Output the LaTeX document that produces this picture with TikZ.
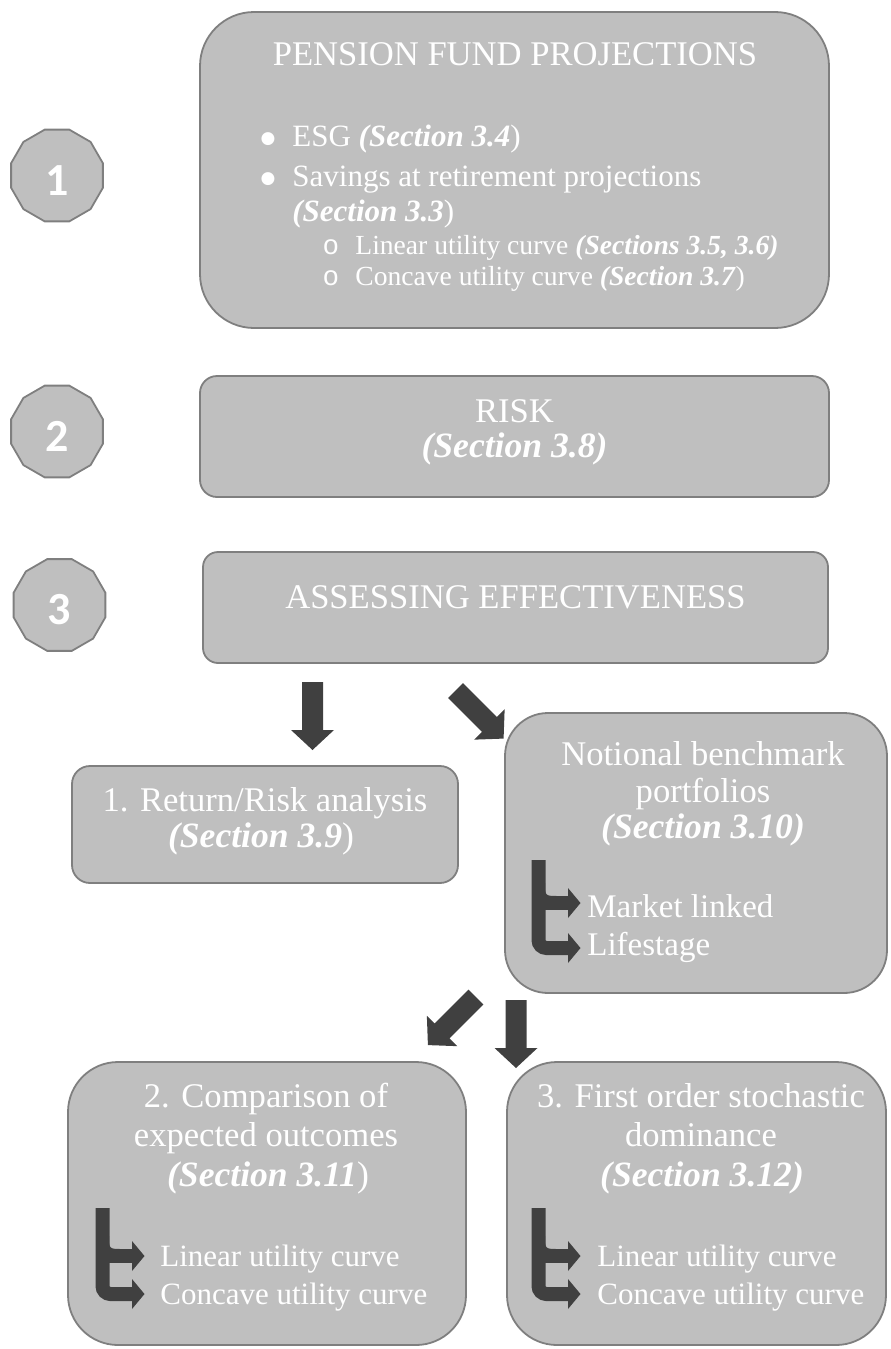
\documentclass[tikz,border=0pt]{standalone}
\usepackage{fontspec}
\setmainfont{Liberation Serif}
\newfontfamily\badgefont{Carlito}
\newfontfamily\subbulletfont{Liberation Mono}
\newfontfamily\dotfont{DejaVu Sans}
\usetikzlibrary{shapes.geometric}

\definecolor{panelgray}{HTML}{BFBFBF}
\definecolor{edgegray}{HTML}{7F7F7F}
\definecolor{arrowdark}{HTML}{404040}

\newcommand{\fsz}[1]{\fontsize{#1}{1.15\dimexpr#1pt\relax}\selectfont}
\newcommand{\secref}[1]{\textbf{\textit{#1}}}

\tikzset{
  panel/.style={draw=edgegray, line width=0.9pt, fill=panelgray, inner sep=0pt},
  badge/.style={regular polygon, regular polygon sides=12, minimum size=47.5pt,
    inner sep=0pt, draw=edgegray, line width=0.9pt, fill=panelgray, text=white,
    font=\badgefont\bfseries\fsz{23}, text height=19.5pt, text depth=0pt},
  head/.style={text=white, anchor=base, inner sep=0pt, font=\fsz{17.3}},
  headsec/.style={head, font=\fsz{17.8}\bfseries\itshape},
  item/.style={text=white, anchor=base west, inner sep=0pt, font=\fsz{15.5}, text depth=1pt},
  bulletmark/.style={text=white, anchor=base, inner sep=0pt, font=\dotfont\fsz{8.5}},
  subitem/.style={text=white, anchor=base west, inner sep=0pt, font=\fsz{13.8}, text depth=1pt},
  branch/.style={text=white, anchor=base west, inner sep=0pt, font=\fsz{#1}},
  blockarrow/.pic={
    \fill[arrowdark] (-10.5,0) -- (-10.5,48) -- (-21.5,48) -- (0,68)
      -- (21.5,48) -- (10.5,48) -- (10.5,0) -- cycle;
  },
  pics/fork/.style n args={2}{code={
    \draw[arrowdark, line width=7pt, rounded corners=4pt] (0,0) -- (0,#2) -- (30,#2);
    \draw[arrowdark, line width=7pt] (0,#1) -- (30,#1);
    \fill[arrowdark] (6.5,#1-20) .. controls (6.5,#1-7) .. (20,#1-7) -- (6.5,#1-7) -- cycle;
    \fill[arrowdark] (29.5,#1-15) -- (42,#1) -- (29.5,#1+15) -- cycle;
    \fill[arrowdark] (29.5,#2-15) -- (42,#2) -- (29.5,#2+15) -- cycle;
  }},
}

\begin{document}
\begin{tikzpicture}[x=0.5pt, y=-0.5pt]
\path[use as bounding box] (0,0) rectangle (890,1349);

% step badges
\node[badge] (badge1) at (57,175.5) {1};
\node[badge] (badge2) at (57,431.5) {2};
\node[badge] (badge3) at (59.5,605) {3};

% top panel: projections
\node[panel, rounded corners=27pt, minimum width=314.5pt, minimum height=158pt] (proj) at (514.5,170) {};
\node[head] (projtitle) at (515,65) {PENSION FUND PROJECTIONS};
\node[bulletmark] (dot1) at (268,143) {●};
\node[item] (esg) at (292,146) {ESG \secref{(Section 3.4}{\upshape)}};
\node[bulletmark] (dot2) at (268,183) {●};
\node[item] (savings) at (292,186) {Savings at retirement projections};
\node[item] (savingssec) at (292,221) {\secref{(Section 3.3}{\upshape)}};
\node[subitem, anchor=base] (circ1) at (331,254) {\subbulletfont o};
\node[subitem] (linear) at (355,254) {Linear utility curve \secref{(Sections 3.5, 3.6)}};
\node[subitem, anchor=base] (circ2) at (331,285) {\subbulletfont o};
\node[subitem] (concave) at (355,285) {Concave utility curve \secref{(Section 3.7}{\upshape)}};

% risk panel
\node[panel, rounded corners=8.5pt, minimum width=314.5pt, minimum height=60.5pt] (risk) at (514.5,436.5) {};
\node[head] (risktitle) at (514.5,422) {RISK};
\node[headsec] (risksec) at (514.5,457) {(Section 3.8)};

% effectiveness panel
\node[panel, rounded corners=7.5pt, minimum width=312.5pt, minimum height=55.5pt] (assess) at (515.5,607.5) {};
\node[head] (assesstitle) at (515.5,608) {ASSESSING EFFECTIVENESS};

% return/risk panel
\node[panel, rounded corners=9pt, minimum width=193pt, minimum height=58.5pt] (retrisk) at (265,824.5) {};
\node[head] (retrisk1) at (265,811) {1. Return/Risk analysis};
\node[headsec] (retrisk2) at (261,847) {(Section 3.9{\mdseries\upshape)}};

% notional benchmark panel
\node[panel, rounded corners=21.5pt, minimum width=191pt, minimum height=140pt] (notional) at (696,853) {};
\node[head] (notional1) at (703,765) {Notional benchmark};
\node[head] (notional2) at (703,802) {portfolios};
\node[headsec] (notional3) at (703,838) {(Section 3.10)};
\pic at (538.5,860) {fork={43}{88}};
\node[branch=16.5] (market) at (587,917) {Market linked};
\node[branch=16.5] (lifestage) at (587,955) {Lifestage};

% expected outcomes panel
\node[panel, rounded corners=25pt, minimum width=199pt, minimum height=141.5pt] (compare) at (267,1203.5) {};
\node[head] (compare1) at (266,1107) {2. Comparison of};
\node[head] (compare2) at (266,1146) {expected outcomes};
\node[headsec] (compare3) at (268,1186) {(Section 3.11{\mdseries\upshape)}};
\pic at (102.5,1208) {fork={48}{86}};
\node[branch=15.5] (complin) at (160,1266) {Linear utility curve};
\node[branch=15.5] (compcon) at (160,1304) {Concave utility curve};

% stochastic dominance panel
\node[panel, rounded corners=25pt, minimum width=189.5pt, minimum height=141.5pt] (stoch) at (696.5,1203.5) {};
\node[head] (stoch1) at (701,1107) {3. First order stochastic};
\node[head] (stoch2) at (701,1146) {dominance};
\node[headsec] (stoch3) at (702,1186) {(Section 3.12)};
\pic at (538.5,1208) {fork={48}{86}};
\node[branch=15.5] (stochlin) at (597,1266) {Linear utility curve};
\node[branch=15.5] (stochcon) at (597,1304) {Concave utility curve};

% block arrows between panels
\pic at (312.5,682) {blockarrow};
\pic[rotate=45] at (455.5,690.5) {blockarrow};
\pic[rotate=-45] at (476,997) {blockarrow};
\pic at (516,1000) {blockarrow};
\end{tikzpicture}
\end{document}
